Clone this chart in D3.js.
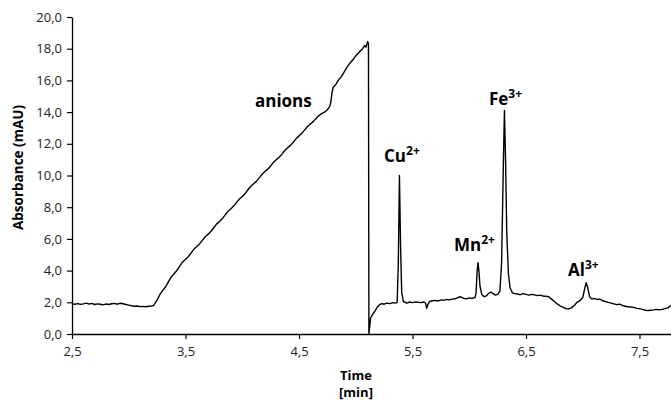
<!DOCTYPE html>
<html>
<head>
<meta charset="utf-8">
<script src="https://cdn.jsdelivr.net/npm/d3@7"></script>
<style>
  html, body { margin: 0; padding: 0; background: #fff; }
  svg { display: block; }
</style>
</head>
<body>
<svg id="chart" width="671" height="400"></svg>
<script>
// electropherogram trace: [time (min), absorbance (mAU)]
const trace = [
  [2.500, 1.90], [2.525, 1.88], [2.550, 1.92], [2.575, 1.87], [2.600, 1.90], [2.625, 1.95],
  [2.650, 1.89], [2.675, 1.93], [2.700, 1.86], [2.725, 1.90], [2.750, 1.88], [2.775, 1.84],
  [2.800, 1.89], [2.825, 1.86], [2.850, 1.91], [2.875, 1.93], [2.900, 1.88], [2.925, 1.94],
  [2.950, 1.91], [2.975, 1.86], [3.000, 1.82], [3.025, 1.78], [3.050, 1.75], [3.075, 1.77],
  [3.100, 1.73], [3.125, 1.74], [3.150, 1.72], [3.175, 1.75], [3.200, 1.76],
  // anion ramp
  [3.220, 1.80], [3.250, 2.15], [3.275, 2.50], [3.300, 2.75], [3.325, 2.98], [3.350, 3.30],
  [3.375, 3.60], [3.400, 3.80], [3.425, 4.02], [3.450, 4.30], [3.475, 4.55], [3.500, 4.72],
  [3.525, 4.88], [3.550, 5.12], [3.575, 5.36], [3.600, 5.52], [3.625, 5.70], [3.650, 5.92],
  [3.675, 6.15], [3.700, 6.30], [3.725, 6.48], [3.750, 6.72], [3.775, 6.95], [3.800, 7.10],
  [3.825, 7.28], [3.850, 7.52], [3.875, 7.74], [3.900, 7.90], [3.925, 8.07], [3.950, 8.30],
  [3.975, 8.52], [4.000, 8.68], [4.025, 8.86], [4.050, 9.10], [4.075, 9.32], [4.100, 9.48],
  [4.125, 9.63], [4.150, 9.85], [4.175, 10.08], [4.200, 10.25], [4.225, 10.40], [4.250, 10.60],
  [4.275, 10.83], [4.300, 11.00], [4.325, 11.15], [4.350, 11.35], [4.375, 11.58], [4.400, 11.75],
  [4.425, 11.90], [4.450, 12.10], [4.475, 12.33], [4.500, 12.50], [4.525, 12.66], [4.550, 12.88],
  [4.575, 13.09], [4.600, 13.25], [4.625, 13.40], [4.650, 13.60], [4.675, 13.78], [4.700, 13.90],
  [4.725, 14.00], [4.750, 14.15], [4.770, 14.35], [4.780, 14.60], [4.790, 15.20], [4.800, 15.55],
  [4.825, 15.75], [4.850, 16.05], [4.875, 16.25], [4.900, 16.55], [4.925, 16.85], [4.950, 17.10],
  [4.975, 17.30], [5.000, 17.55], [5.020, 17.70], [5.040, 17.85], [5.060, 18.00],
  [5.080, 18.20], [5.090, 18.10], [5.105, 18.45], [5.112, 18.30], [5.116, 0.00],
  // recovery
  [5.125, 0.60], [5.130, 1.00], [5.150, 1.25], [5.170, 1.45], [5.190, 1.70], [5.210, 1.85],
  [5.230, 1.92], [5.250, 1.88], [5.275, 1.95], [5.300, 1.92], [5.325, 1.98], [5.350, 1.95],
  [5.365, 2.00],
  // Cu2+
  [5.375, 4.50], [5.385, 10.00], [5.395, 5.50], [5.405, 2.60], [5.420, 2.05],
  [5.450, 1.95], [5.475, 2.02], [5.500, 1.98], [5.525, 2.03], [5.550, 2.00], [5.575, 1.98],
  [5.600, 2.02], [5.615, 1.95], [5.625, 1.62], [5.635, 1.85], [5.650, 2.05], [5.675, 2.10],
  [5.700, 2.12], [5.725, 2.08], [5.750, 2.15], [5.775, 2.12], [5.800, 2.18], [5.825, 2.15],
  [5.850, 2.20], [5.875, 2.22], [5.900, 2.30], [5.925, 2.35], [5.950, 2.25], [5.975, 2.22],
  [6.000, 2.28], [6.025, 2.25], [6.050, 2.30],
  // Mn2+
  [6.060, 2.60], [6.070, 4.00], [6.077, 4.50], [6.085, 4.00], [6.095, 3.00], [6.110, 2.50],
  [6.130, 2.35], [6.150, 2.40], [6.170, 2.55], [6.190, 2.65], [6.210, 2.55], [6.230, 2.45],
  [6.250, 2.50],
  // Fe3+
  [6.270, 2.70], [6.285, 4.50], [6.300, 10.50], [6.310, 14.10], [6.320, 11.00], [6.330, 6.50],
  [6.345, 3.80], [6.360, 2.90], [6.380, 2.60], [6.400, 2.55],
  [6.425, 2.52], [6.450, 2.48], [6.475, 2.55], [6.500, 2.50], [6.525, 2.45], [6.550, 2.50],
  [6.575, 2.47], [6.600, 2.42], [6.625, 2.45], [6.650, 2.40], [6.675, 2.38], [6.700, 2.35],
  [6.725, 2.20], [6.750, 2.05], [6.775, 1.90], [6.800, 1.78], [6.825, 1.70], [6.850, 1.60],
  [6.875, 1.58], [6.900, 1.65], [6.925, 1.80], [6.950, 2.00], [6.975, 2.10], [7.000, 2.30],
  // Al3+
  [7.015, 2.80], [7.030, 3.24], [7.045, 2.90], [7.060, 2.35], [7.080, 2.20],
  [7.100, 2.25], [7.125, 2.18], [7.150, 2.20], [7.175, 2.10], [7.200, 2.05], [7.225, 2.00],
  [7.250, 1.95], [7.275, 1.90], [7.300, 1.85], [7.325, 1.88], [7.350, 1.80], [7.375, 1.75],
  [7.400, 1.72], [7.425, 1.70], [7.450, 1.68], [7.475, 1.62], [7.500, 1.60], [7.525, 1.55],
  [7.550, 1.50], [7.575, 1.48], [7.600, 1.50], [7.625, 1.52], [7.650, 1.55], [7.675, 1.52],
  [7.700, 1.55], [7.725, 1.60], [7.750, 1.65], [7.775, 1.80]
];

const xTicks = [2.5, 3.5, 4.5, 5.5, 6.5, 7.5];
const yTicks = [0, 2, 4, 6, 8, 10, 12, 14, 16, 18, 20];

// peak labels: name, charge, left edge time, baseline value
const peakNames = ['anions', 'Cu', 'Mn', 'Fe', 'Al'];
const peakCharges = ['', '2+', '2+', '3+', '3+'];
const peakTimes = [4.112, 5.249, 5.866, 6.174, 6.870];
const peakValues = [14.34, 10.87, 5.24, 14.45, 3.66];

const svg = d3.select('#chart');
const margin = { top: 17, right: 0, bottom: 66, left: 72 };
const W = 671, H = 400;

const x = d3.scaleLinear()
  .domain([2.5, 2.5 + (W - margin.left) / 113.5])
  .range([margin.left, W - margin.right]);
const y = d3.scaleLinear().domain([0, 20]).range([H - margin.bottom, margin.top]);

const fmt = d => d.toFixed(1).replace('.', ',');
const font = "'Open Sans', 'Liberation Sans', sans-serif";

const xAxis = svg.append('g')
  .attr('transform', `translate(0,${y(0)})`)
  .call(d3.axisBottom(x).tickValues(xTicks).tickFormat(fmt).tickSize(5).tickSizeOuter(0));
const yAxis = svg.append('g')
  .attr('transform', `translate(${margin.left},0)`)
  .call(d3.axisLeft(y).tickValues(yTicks).tickFormat(fmt).tickSize(5).tickSizeOuter(0));

[xAxis, yAxis].forEach(a => {
  a.select('.domain').attr('stroke', '#000').attr('stroke-width', 1.3);
  a.selectAll('.tick line').attr('stroke', '#000').attr('stroke-width', 1.2);
  a.selectAll('.tick text')
    .attr('font-family', font)
    .attr('font-size', 13)
    .attr('fill', '#222');
});
xAxis.selectAll('.tick text').attr('dy', '1.05em');
yAxis.selectAll('.tick text').attr('x', -10);

const line = d3.line().x(d => x(d[0])).y(d => y(d[1]));
svg.append('path')
  .datum(trace)
  .attr('fill', 'none')
  .attr('stroke', '#000')
  .attr('stroke-width', 1.4)
  .attr('stroke-linejoin', 'round')
  .attr('d', line);

// axis titles
svg.append('text')
  .attr('transform', `translate(23,${(y(0) + y(20)) / 2 - 8}) rotate(-90)`)
  .attr('text-anchor', 'middle')
  .attr('font-family', font)
  .attr('font-weight', 'bold')
  .attr('font-size', 13.5)
  .text('Absorbance (mAU)');

const xt = svg.append('text')
  .attr('text-anchor', 'middle')
  .attr('font-family', font)
  .attr('font-weight', 'bold')
  .attr('font-size', 13);
xt.append('tspan').attr('x', 356).attr('y', 380).text('Time');
xt.append('tspan').attr('x', 356).attr('y', 397).text('[min]');

// peak annotations
peakNames.forEach((name, i) => {
  const t = svg.append('text')
    .attr('x', x(peakTimes[i]))
    .attr('y', y(peakValues[i]))
    .attr('text-anchor', 'start')
    .attr('font-family', font)
    .attr('font-weight', 'bold')
    .attr('font-size', 17);
  t.append('tspan').text(name);
  if (peakCharges[i]) {
    t.append('tspan').attr('font-size', 12).attr('dy', -7).text(peakCharges[i]);
  }
});
</script>
</body>
</html>
